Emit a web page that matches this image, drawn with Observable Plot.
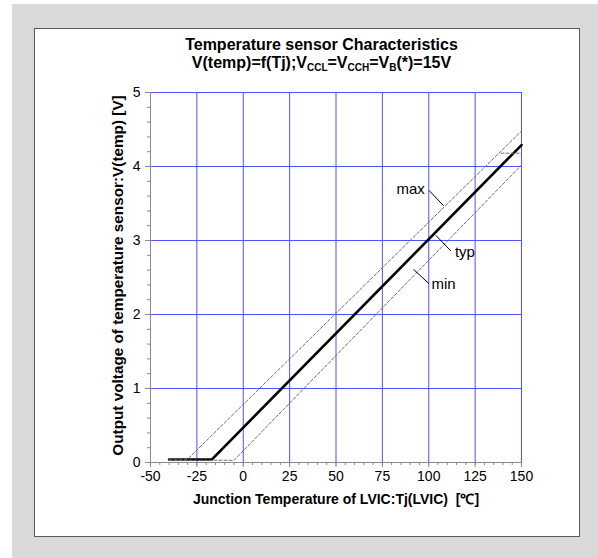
<!DOCTYPE html>
<html>
<head>
<meta charset="utf-8">
<script src="https://cdn.jsdelivr.net/npm/d3@7"></script>
<script src="https://cdn.jsdelivr.net/npm/@observablehq/plot@0.6"></script>
<style>
  body { margin: 0; background: #fff; }
  #wrap { position: relative; width: 598px; height: 558px; overflow: hidden; font-family: "Liberation Sans", Arial, sans-serif; }
  #bg { position: absolute; left: 12px; top: 4px; width: 586px; height: 554px; background: #d9d9d9; }
  #box { position: absolute; left: 34px; top: 28px; width: 544px; height: 507px; background: #fff; border: 1.5px solid #5a5a5a; }
  .t { position: absolute; left: 0; width: 643px; text-align: center; font-weight: bold; font-size: 16px; line-height: 18px; color: #000; white-space: nowrap; }
  .t sub { font-size: 10px; vertical-align: -3px; line-height: 0; }
  #chart { position: absolute; left: 0; top: 0; }
</style>
</head>
<body>
<div id="wrap">
  <div id="bg"></div>
  <div id="box"></div>
  <div class="t" style="top:36px">Temperature sensor Characteristics</div>
  <div class="t" style="top:54px">V(temp)=f(Tj);V<sub>CCL</sub>=V<sub>CCH</sub>=V<sub>B</sub>(*)=15V</div>
  <div id="chart"></div>
</div>
<script>
// Tick values
const xTicks = [-50, -25, 0, 25, 50, 75, 100, 125, 150];
const yTicks = [0, 1, 2, 3, 4, 5];
const xMinor = [-50,-45,-40,-35,-30,-25,-20,-15,-10,-5,0,5,10,15,20,25,30,35,40,45,50,55,60,65,70,75,80,85,90,95,100,105,110,115,120,125,130,135,140,145,150];
const yMinor = [0,0.2,0.4,0.6,0.8,1,1.2,1.4,1.6,1.8,2,2.2,2.4,2.6,2.8,3,3.2,3.4,3.6,3.8,4,4.2,4.4,4.6,4.8,5];

// Series (Tj [°C], V(temp) [V])
const typTj = [-40, -17, 150];
const typV  = [0.04, 0.04, 4.29];
const maxTj = [-40, -30, 150];
const maxV  = [0.045, 0.045, 4.48];
const minTj = [-40, -5, 150];
const minV  = [0.03, 0.03, 4.02];
const stubTj = [139, 150];
const stubV  = [4.18, 4.18];

// Curve labels and leader lines
const labelText = ["max", "typ", "min"];
const labelTj = [97.9, 114.1, 101.5];
const labelV = [3.70, 2.84, 2.405];
const labelAnchor = ["end", "start", "start"];
const leadTj1 = [100.2, 103.8, 91.8];
const leadV1 = [3.676, 3.07, 2.61];
const leadTj2 = [108, 111.9, 100.2];
const leadV2 = [3.47, 2.86, 2.415];

const xTitle = "Junction Temperature of LVIC:Tj(LVIC)  [\u2103]";
const yTitle = "Output voltage of temperature sensor:V(temp) [V]";

const pts = (xs, ys) => xs.map((x, i) => ({x, y: ys[i]}));
const labels = labelText.map((t, i) => ({t, x: labelTj[i], y: labelV[i], a: labelAnchor[i]}));
const leaders = labelText.map((t, i) => ({x1: leadTj1[i], y1: leadV1[i], x2: leadTj2[i], y2: leadV2[i]}));

const grid = "#5050ff";
const axisGray = "#8a8a8a";
const dashGray = "#6e6e6e";
const font = "Liberation Sans, Arial, sans-serif";
const fmt = d => String(d);

const chart = Plot.plot({
  width: 598, height: 558,
  marginLeft: 150, marginRight: 77, marginTop: 92, marginBottom: 96,
  style: {background: "transparent", fontFamily: font, fontSize: "14px", color: "#000", overflow: "visible"},
  x: {domain: [-50, 150]},
  y: {domain: [0, 5]},
  marks: [
    Plot.ruleX(xTicks.slice(1), {stroke: grid, strokeWidth: 1}),
    Plot.ruleY(yTicks.slice(1), {stroke: grid, strokeWidth: 1}),
    Plot.axisX(xMinor, {tickSize: 3, tickFormat: () => "", stroke: axisGray, label: null}),
    Plot.axisY(yMinor, {tickSize: 3, tickFormat: () => "", stroke: axisGray, label: null}),
    Plot.axisX(xTicks, {tickSize: 5, tickPadding: 4, tickFormat: fmt, stroke: axisGray, fontSize: 14, label: null}),
    Plot.axisY(yTicks, {tickSize: 5, tickPadding: 5, tickFormat: fmt, stroke: axisGray, fontSize: 14, label: null}),
    Plot.ruleX([-50], {stroke: axisGray}),
    Plot.ruleY([0], {stroke: axisGray}),
    Plot.line(pts(typTj, typV), {x: "x", y: "y", stroke: "#000", strokeWidth: 2.6}),
    Plot.line(pts(maxTj, maxV), {x: "x", y: "y", stroke: dashGray, strokeWidth: 1, strokeDasharray: "3,2"}),
    Plot.line(pts(minTj, minV), {x: "x", y: "y", stroke: dashGray, strokeWidth: 1, strokeDasharray: "3,2"}),
    Plot.line(pts(stubTj, stubV), {x: "x", y: "y", stroke: dashGray, strokeWidth: 1, strokeDasharray: "3,2"}),
    Plot.link(leaders, {x1: "x1", y1: "y1", x2: "x2", y2: "y2", stroke: "#000", strokeWidth: 1}),
    Plot.text(labels.filter(d => d.a === "end"), {x: "x", y: "y", text: "t", textAnchor: "end", fontSize: 15, fill: "#000"}),
    Plot.text(labels.filter(d => d.a === "start"), {x: "x", y: "y", text: "t", textAnchor: "start", fontSize: 15, fill: "#000"}),
    Plot.text([xTitle], {frameAnchor: "bottom", dy: 41, textAnchor: "middle", fontWeight: "bold", fontSize: 14, fill: "#000"}),
    Plot.text([yTitle], {frameAnchor: "left", textAnchor: "middle", rotate: -90, dx: -32, dy: -2, fontWeight: "bold", fontSize: 15.3, fill: "#000"})
  ]
});
document.getElementById("chart").appendChild(chart);
</script>
</body>
</html>
